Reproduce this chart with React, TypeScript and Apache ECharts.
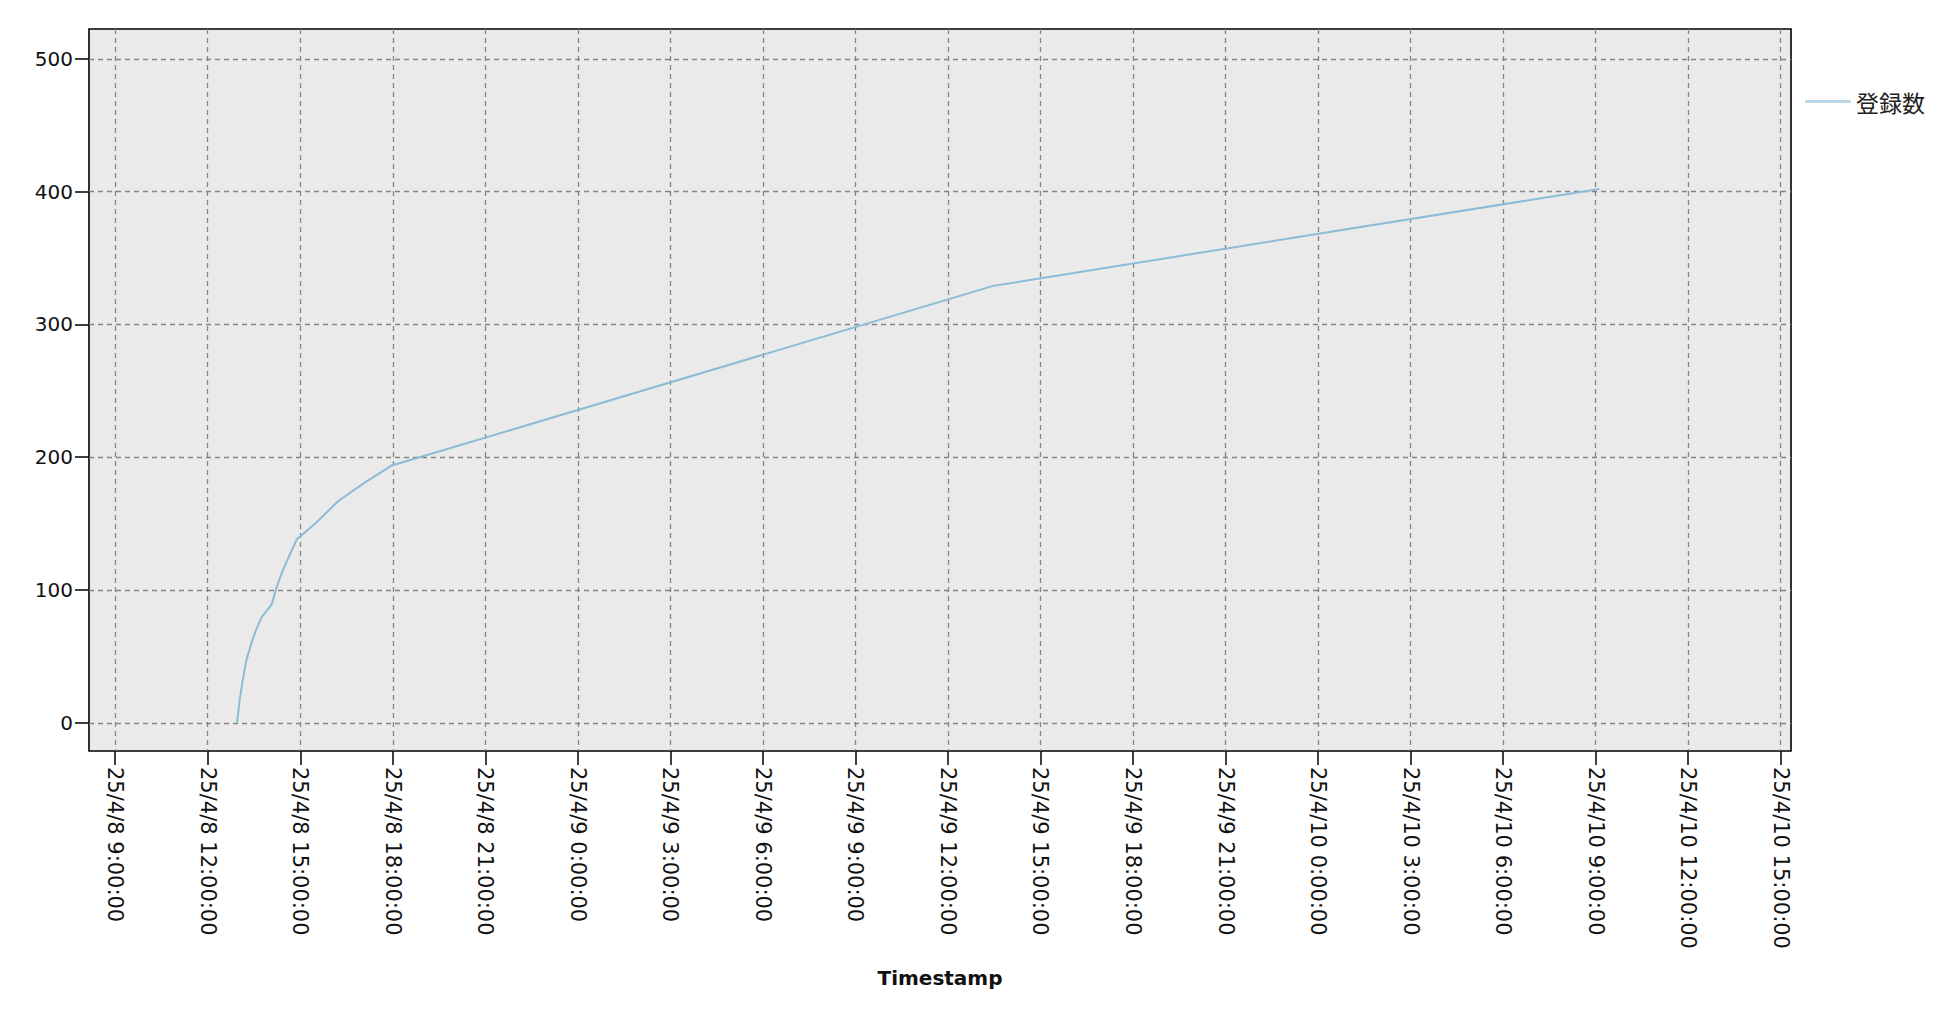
import { useEffect, useRef } from 'react';
import * as echarts from 'echarts';

// Cumulative registrations over time
const seriesName = '登録数';
const times = [
  '2025-04-08 12:57',
  '2025-04-08 13:02',
  '2025-04-08 13:08',
  '2025-04-08 13:15',
  '2025-04-08 13:25',
  '2025-04-08 13:34',
  '2025-04-08 13:44',
  '2025-04-08 14:04',
  '2025-04-08 14:14',
  '2025-04-08 14:23',
  '2025-04-08 14:40',
  '2025-04-08 14:53',
  '2025-04-08 15:29',
  '2025-04-08 16:14',
  '2025-04-08 17:06',
  '2025-04-08 17:59',
  '2025-04-08 18:44',
  '2025-04-09 13:28',
  '2025-04-10 09:07',
];
const counts = [0, 17, 32, 47, 60, 70, 79, 89, 102, 112, 127, 138, 150, 167, 181, 194, 199, 329, 402];

const xTicks = [
  '2025-04-08 09:00',
  '2025-04-08 12:00',
  '2025-04-08 15:00',
  '2025-04-08 18:00',
  '2025-04-08 21:00',
  '2025-04-09 00:00',
  '2025-04-09 03:00',
  '2025-04-09 06:00',
  '2025-04-09 09:00',
  '2025-04-09 12:00',
  '2025-04-09 15:00',
  '2025-04-09 18:00',
  '2025-04-09 21:00',
  '2025-04-10 00:00',
  '2025-04-10 03:00',
  '2025-04-10 06:00',
  '2025-04-10 09:00',
  '2025-04-10 12:00',
  '2025-04-10 15:00',
];
const yTicks = [0, 100, 200, 300, 400, 500];

const xMin = '2025-04-08 08:09';
const xMax = '2025-04-10 15:20';

const toTime = (s: string) => {
  const [d, hm] = s.split(' ');
  const [y, m, dd] = d.split('-').map(Number);
  const [h, mi] = hm.split(':').map(Number);
  return new Date(y, m - 1, dd, h, mi).getTime();
};

const pad = (n: number) => String(n).padStart(2, '0');

const formatTime = (v: number) => {
  const d = new Date(v);
  return `${d.getFullYear() % 100}/${d.getMonth() + 1}/${d.getDate()} ${d.getHours()}:${pad(
    d.getMinutes()
  )}:${pad(d.getSeconds())}`;
};

export default function App() {
  const chartRef = useRef<HTMLDivElement>(null);

  useEffect(() => {
    if (!chartRef.current) {
      return;
    }
    const chart = echarts.init(chartRef.current, null, { renderer: 'svg' });

    const gridLine = {
      show: true,
      lineStyle: { color: '#858585', width: 1.3, type: [5, 4] as number[] },
    };
    const tick = {
      show: true,
      length: 14,
      lineStyle: { color: '#000', width: 1.5 },
    };

    const option: echarts.EChartsOption = {
      animation: false,
      backgroundColor: '#fff',
      textStyle: { fontFamily: 'DejaVu Sans' },
      grid: {
        left: 89,
        top: 29,
        width: 1702,
        height: 722,
        show: true,
        backgroundColor: '#eaeaea',
        borderColor: '#000',
        borderWidth: 1.6,
        containLabel: false,
      },
      legend: {
        data: [seriesName],
        left: 1800,
        top: 85,
        icon: 'rect',
        itemWidth: 46,
        itemHeight: 3,
        itemGap: 6,
        itemStyle: { color: '#bcd7e5' },
        textStyle: {
          fontFamily: 'Noto Sans CJK JP',
          fontSize: 23,
          color: '#222',
        },
      },
      xAxis: {
        // timestamps in ms on a value scale, so the 3-hour ticks can be placed exactly
        type: 'value',
        min: toTime(xMin),
        max: toTime(xMax),
        name: 'Timestamp',
        nameLocation: 'middle',
        nameGap: 217,
        nameTextStyle: {
          fontFamily: 'DejaVu Sans',
          fontWeight: 'bold',
          fontSize: 20,
          color: '#111',
        },
        axisLine: { show: false, onZero: false },
        axisTick: { ...tick, customValues: xTicks.map(toTime) },
        splitLine: gridLine,
        axisLabel: {
          customValues: xTicks.map(toTime),
          rotate: -90,
          margin: 16,
          fontSize: 21,
          color: '#111',
          formatter: (v: number) => formatTime(v),
        },
      },
      yAxis: {
        type: 'value',
        min: -21.2,
        max: 522.4,
        axisLine: { show: false, onZero: false },
        axisTick: { ...tick, customValues: yTicks },
        splitLine: gridLine,
        axisLabel: {
          customValues: yTicks,
          margin: 16,
          fontSize: 20,
          color: '#111',
        },
      },
      series: [
        {
          name: seriesName,
          type: 'line',
          data: times.map((t, i) => [toTime(t), counts[i]]),
          showSymbol: false,
          symbol: 'none',
          color: '#8cbbd6',
          lineStyle: { color: '#8cbbd6', width: 2 },
        },
      ],
    };

    chart.setOption(option);

    return () => {
      chart.dispose();
    };
  }, []);

  return (
    <div
      ref={chartRef}
      style={{ position: 'fixed', left: 0, top: 0, width: '1950px', height: '1028px' }}
    />
  );
}
